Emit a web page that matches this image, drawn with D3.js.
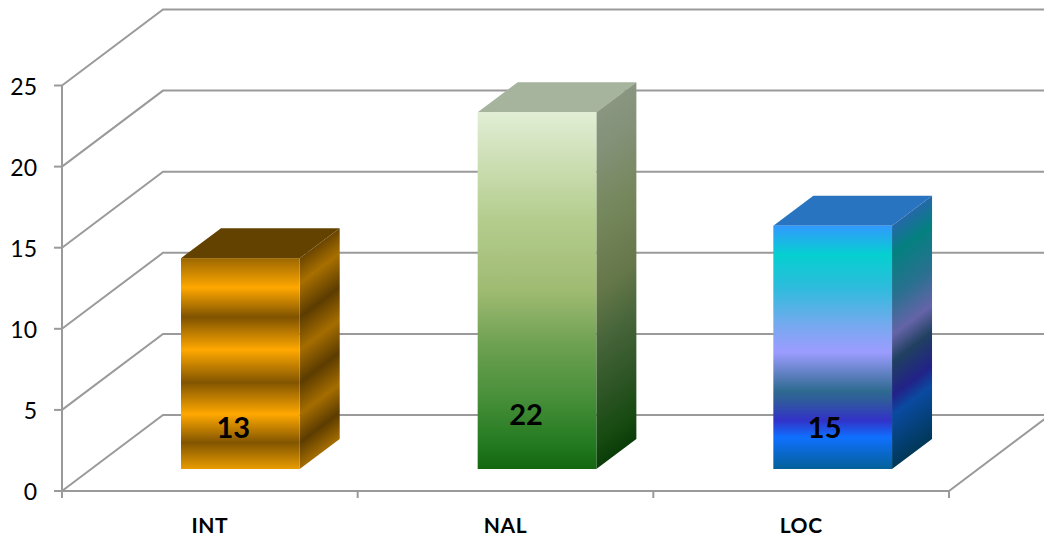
<!DOCTYPE html>
<html><head><meta charset="utf-8">
<script src="https://cdn.jsdelivr.net/npm/d3@7"></script>
<style>html,body{margin:0;padding:0;background:#fff}svg{display:block}text{font-family:Lato,"Open Sans",sans-serif;fill:#000}</style>
</head><body><div id="c"></div>
<script>
const categories = ["INT", "NAL", "LOC"];
const values = [13, 22, 15];
const yTicks = [0, 5, 10, 15, 20, 25];

const W = 1044, H = 537;
const x0 = 62, x1 = 949, yBase = 491, yTop = 85.5;
const depth = {dx: 101, dy: -76};
const barDepth = {dx: 40, dy: -30};
const barWidth = 118.7, barFloorLift = 22;
const barInset = [119, 120, 120];
const grid = "#9a9a9a";

const gradients = [
  {front: [[0,"#9c6700"],[.14,"#ffa800"],[.28,"#7f5300"],[.435,"#ffa800"],[.59,"#825500"],[.74,"#ffa800"],[.875,"#825500"],[1,"#e89c00"]],
   side:  [[0,"#6a4500"],[.12,"#a86f00"],[.28,"#5c3c00"],[.435,"#a56d00"],[.59,"#5c3c00"],[.74,"#a56d00"],[.875,"#5c3c00"],[1,"#a56d00"]],
   top: "#634200"},
  {front: [[0,"#e1eed5"],[.1,"#d2e3bd"],[.3,"#b4cd8e"],[.5,"#9fbb72"],[.65,"#6ea152"],[.8,"#488f3a"],[.93,"#237a20"],[1,"#14670f"]],
   side:  [[0,"#8a9680"],[.1,"#84927a"],[.3,"#75875c"],[.5,"#66784a"],[.65,"#47653a"],[.8,"#2e5526"],[.93,"#164a10"],[1,"#0a3c08"]],
   top: "#a6b39d"},
  {front: [[0,"#3299ff"],[.12,"#05d0d0"],[.25,"#2cbcdc"],[.42,"#7aa8f0"],[.52,"#9c9cff"],[.68,"#2e6a90"],[.72,"#2f5a9c"],[.8,"#3232c8"],[.87,"#0f70ff"],[1,"#046098"]],
   side:  [[0,"#2468a8"],[.12,"#048080"],[.3,"#2a7090"],[.45,"#6464a8"],[.56,"#204060"],[.7,"#222288"],[.78,"#0a4aa0"],[1,"#003858"]],
   top: "#2874c0"}
];

// value-label placement inside each bar, in value units and pixels from the bar's front centre
const labelAnchor = [{dx: -7, v: 2.62}, {dx: -11, v: 3.42}, {dx: -8, v: 2.62}];

const y = d3.scaleLinear().domain([0, 25]).range([yBase, yTop]);
const x = d3.scaleBand().domain(categories).range([x0, x1]);

const svg = d3.select("#c").append("svg").attr("width", W).attr("height", H).attr("viewBox", `0 0 ${W} ${H}`);
const defs = svg.append("defs");

const g = svg.append("g").attr("fill", "none").attr("stroke", grid).attr("stroke-width", 2);

// walls: diagonal and back gridlines
yTicks.forEach(t => {
  g.append("path").attr("stroke-width", 2)
   .attr("d", `M${x0},${y(t)}L${x0 + depth.dx},${y(t) + depth.dy}L${x1 + depth.dx},${y(t) + depth.dy}`);
  g.append("line").attr("x1", x0 - 8).attr("x2", x0).attr("y1", y(t)).attr("y2", y(t));
});
// axes
g.append("line").attr("x1", x0).attr("x2", x0).attr("y1", y(25)).attr("y2", yBase + 7);
g.append("path").attr("d", `M${x0},${yBase}L${x1},${yBase}L${x1 + depth.dx},${yBase + depth.dy}`);
[...categories.map(c => x(c)), x1].forEach(px => {
  g.append("line").attr("x1", px).attr("x2", px).attr("y1", yBase).attr("y2", yBase + 7);
});

const unit = y(0) - y(1);
const yb = v => yBase - barFloorLift - v * unit;

function grad(id, stops, top, bot, skewX) {
  const lg = defs.append("linearGradient").attr("id", id).attr("gradientUnits", "userSpaceOnUse")
    .attr("x1", 0).attr("x2", 0).attr("y1", top).attr("y2", bot);
  if (skewX != null) {
    const k = barDepth.dy / barDepth.dx;
    lg.attr("gradientTransform", `matrix(1,${k},0,1,0,${-k * skewX})`);
  }
  stops.forEach(s => lg.append("stop").attr("offset", s[0]).attr("stop-color", s[1]));
}

const bars = svg.append("g");
categories.forEach((c, i) => {
  const lx = x(c) + barInset[i];
  const rx = lx + barWidth;
  const top = yb(values[i]), bot = yb(0);
  const st = gradients[i];
  grad("f" + i, st.front, top, bot);
  grad("s" + i, st.side, top, bot, rx);
  bars.append("path").attr("fill", st.top)
    .attr("d", `M${lx},${top}L${lx + barDepth.dx},${top + barDepth.dy}L${rx + barDepth.dx},${top + barDepth.dy}L${rx},${top}Z`);
  bars.append("path").attr("fill", `url(#s${i})`)
    .attr("d", `M${rx},${top}L${rx + barDepth.dx},${top + barDepth.dy}L${rx + barDepth.dx},${bot + barDepth.dy}L${rx},${bot}Z`);
  bars.append("rect").attr("x", lx).attr("y", top).attr("width", rx - lx).attr("height", bot - top).attr("fill", `url(#f${i})`);
  const a = labelAnchor[i];
  svg.append("text").attr("x", (lx + rx) / 2 + a.dx).attr("y", yb(a.v)).attr("text-anchor", "middle")
    .attr("dominant-baseline", "central").attr("font-size", 29).attr("font-weight", 700).text(values[i]);
});

// tick labels
yTicks.forEach(t => {
  svg.append("text").attr("x", 37).attr("y", y(t)).attr("text-anchor", "end")
    .attr("dominant-baseline", "central").attr("font-size", 23).text(t);
});
categories.forEach(c => {
  svg.append("text").attr("x", x(c) + x.bandwidth() / 2).attr("y", 524.5).attr("text-anchor", "middle")
    .attr("dominant-baseline", "central").attr("font-size", 21).attr("letter-spacing", 0.6).attr("font-weight", 700).text(c);
});
</script></body></html>
